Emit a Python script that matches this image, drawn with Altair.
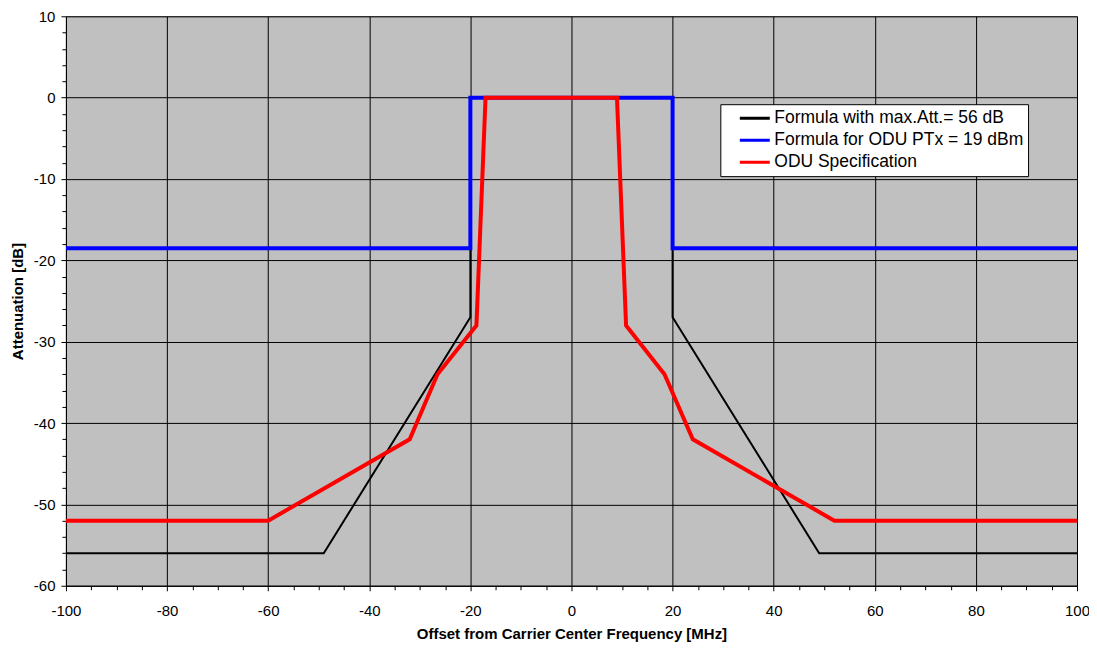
import altair as alt
import pandas as pd

# Data
black_x = [-100, -49, -20, -20, 20, 20, 49, 100]
black_y = [-56, -56, -27, 0, 0, -27, -56, -56]
blue_x = [-100, -20, -20, 20, 20, 100]
blue_y = [-18.5, -18.5, 0, 0, -18.5, -18.5]
red_x = [-100, -60, -32, -26.5, -18.8, -17, 9, 10.8, 18.4, 24, 52, 100]
red_y = [-52, -52, -42, -34, -28, 0, 0, -28, -34, -42, -52, -52]

series_names = ["Formula with max.Att.= 56 dB", "Formula for ODU PTx = 19 dBm", "ODU Specification"]
series_colors = ["#000000", "#0000FF", "#FF0000"]

x_ticks = list(range(-100, 101, 5))
y_ticks = list(range(-60, 11, 2))

rows = []
for name, xs, ys in zip(series_names, [black_x, blue_x, red_x], [black_y, blue_y, red_y]):
    for i, (a, b) in enumerate(zip(xs, ys)):
        rows.append({"series": name, "x": a, "y": b, "idx": i})
df = pd.DataFrame(rows)

FONT = "Liberation Sans"

x_enc = alt.X("x:Q", scale=alt.Scale(domain=[-100, 100], nice=False, zero=False),
              axis=alt.Axis(values=x_ticks, title="Offset from Carrier Center Frequency [MHz]",
                            labelExpr="datum.value % 20 === 0 ? '' + datum.value : ''",
                            tickSize={"condition": {"test": "datum.value % 20 === 0", "value": 5}, "value": 4},
                            gridOpacity={"condition": {"test": "datum.value % 20 === 0", "value": 1}, "value": 0},
                            gridColor="#000000", gridWidth=1,
                            labelFontSize=15, labelFont=FONT, labelColor="#000000", labelPadding=13,
                            titleFontSize=15, titleFont=FONT, titleFontWeight="bold", titleColor="#000000",
                            titlePadding=8, domainColor="#000000", tickColor="#000000", labelFlush=False,
                            labelOverlap=False))
y_enc = alt.Y("y:Q", scale=alt.Scale(domain=[-60, 10], nice=False, zero=False),
              axis=alt.Axis(values=y_ticks, title="Attenuation [dB]",
                            labelExpr="datum.value % 10 === 0 ? '' + datum.value : ''",
                            tickSize={"condition": {"test": "datum.value % 10 === 0", "value": 5}, "value": 4},
                            gridOpacity={"condition": {"test": "datum.value % 10 === 0", "value": 1}, "value": 0},
                            gridColor="#000000", gridWidth=1,
                            labelFontSize=15, labelFont=FONT, labelColor="#000000", labelPadding=6,
                            titleFontSize=15, titleFont=FONT, titleFontWeight="bold", titleColor="#000000",
                            titlePadding=8, domainColor="#000000", tickColor="#000000", labelFlush=False,
                            labelOverlap=False))

color_enc = alt.Color("series:N", scale=alt.Scale(domain=series_names, range=series_colors),
                      legend=alt.Legend(title=None, orient="none", legendX=655, legendY=88,
                                        symbolType="stroke", symbolStrokeWidth=3, symbolSize=900,
                                        symbolOffset=14, clipHeight=20,
                                        labelFontSize=17.5, labelFont=FONT, labelColor="#000000",
                                        fillColor="#FFFFFF", strokeColor="#000000", padding=4,
                                        rowPadding=2, labelOffset=3, labelLimit=400))

layers = []
widths = [2, 4, 4]
for name, w in zip(series_names, widths):
    layers.append(
        alt.Chart(df).transform_filter(alt.datum.series == name)
        .mark_line(strokeWidth=w, clip=True)
        .encode(x=x_enc, y=y_enc, color=color_enc, order="idx:Q")
    )

chart = alt.layer(*layers).properties(
    width=1012, height=570,
    autosize=alt.AutoSizeParams(type="none"),
    padding={"left": 58, "top": 8, "right": 12, "bottom": 59},
    background="#FFFFFF",
).configure_view(fill="#C0C0C0", stroke="#808080", strokeWidth=1)

chart.save("out.html", embed_options={"renderer": "svg", "actions": False})
